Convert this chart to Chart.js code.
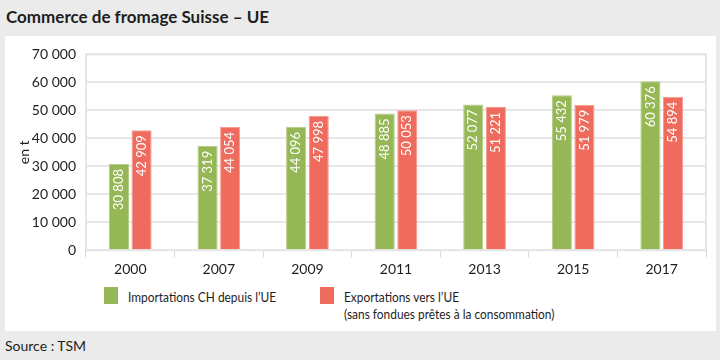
<!DOCTYPE html>
<html>
<head>
<meta charset="utf-8">
<script src="https://cdn.jsdelivr.net/npm/chart.js@4"></script>
<style>
  body { margin: 0; width: 720px; height: 360px; background: #ebebeb; font-family: Lato, sans-serif; color: #1e1e1e; position: relative; overflow: hidden; }
  #title { position: absolute; left: 6px; top: 6px; font-size: 17px; font-weight: bold; }
  #panel { position: absolute; left: 5px; top: 36px; width: 711px; height: 295px; background: #fff; }
  #wrap { position: absolute; left: 0; top: 0; width: 711px; height: 246px; }
  #legend { position: absolute; left: 0; top: 251px; width: 711px; font-size: 14px; line-height: 17px; }
  .item { position: absolute; top: 0; }
  .box { position: absolute; left: 0; top: 0; width: 14px; height: 17px; }
  .txt { position: absolute; left: 24px; top: 1px; white-space: nowrap; transform: scaleX(0.85); transform-origin: 0 0; }
  #source { position: absolute; left: 5px; top: 337px; font-size: 14px; }
</style>
</head>
<body>
<div id="title">Commerce de fromage Suisse – UE</div>
<div id="panel">
  <div id="wrap"><canvas id="chart"></canvas></div>
  <div id="legend"></div>
</div>
<div id="source">Source : TSM</div>
<script>
const years = ['2000', '2007', '2009', '2011', '2013', '2015', '2017'];
const importsEU = [30808, 37319, 44096, 48885, 52077, 55432, 60376];
const exportsEU = [42909, 44054, 47998, 50053, 51221, 51979, 54894];
const seriesNames = [['Importations CH depuis l\u2019UE'], ['Exportations vers l\u2019UE', '(sans fondues prêtes à la consommation)']];
const yMax = 70000;
const yStep = 10000;

const green = '#95b755';
const red = '#ee6b5d';

function fmt(n) {
  return String(n).replace(/\B(?=(\d{3})+(?!\d))/g, ' ');
}

// white rotated value labels at the top of each bar
const barLabels = {
  id: 'barLabels',
  afterDatasetsDraw(chart) {
    const ctx = chart.ctx;
    ctx.save();
    ctx.fillStyle = '#fff';
    ctx.font = '13px Lato, sans-serif';
    ctx.textAlign = 'right';
    ctx.textBaseline = 'middle';
    chart.data.datasets.forEach((ds, i) => {
      chart.getDatasetMeta(i).data.forEach((bar, j) => {
        ctx.save();
        ctx.translate(bar.x, bar.y + 5);
        ctx.rotate(-Math.PI / 2);
        ctx.fillText(fmt(ds.data[j]), 0, 0);
        ctx.restore();
      });
    });
    ctx.restore();
  }
};

// light frame round the plot area
const frame = {
  id: 'frame',
  beforeDatasetsDraw(chart) {
    const a = chart.chartArea;
    const ctx = chart.ctx;
    ctx.save();
    ctx.strokeStyle = '#e6e6e6';
    ctx.lineWidth = 2;
    ctx.strokeRect(a.left, a.top, a.right - a.left, a.bottom - a.top);
    ctx.restore();
  }
};

const chart = new Chart(document.getElementById('chart'), {
  type: 'bar',
  data: {
    labels: years,
    datasets: [
      { label: seriesNames[0].join(' '), data: importsEU, backgroundColor: green, borderColor: '#b3cc85', borderWidth: 1 },
      { label: seriesNames[1].join(' '), data: exportsEU, backgroundColor: red, borderColor: '#f49a8f', borderWidth: 1 }
    ]
  },
  options: {
    responsive: true,
    maintainAspectRatio: false,
    animation: false,
    layout: { padding: { left: 8, right: 10, top: 10, bottom: 0 } },
    categoryPercentage: 0.51,
    barPercentage: 0.89,
    plugins: { legend: { display: false }, tooltip: { enabled: false } },
    scales: {
      x: {
        grid: { offset: true, drawOnChartArea: false, color: '#d9d9d9', lineWidth: 1, tickLength: 7 },
        border: { color: '#e6e6e6', width: 2 },
        ticks: { color: '#1e1e1e', font: { family: 'Lato, sans-serif', size: 14 }, padding: 4 }
      },
      y: {
        min: 0,
        max: yMax,
        afterFit(scale) { scale.width = 73; },
        grid: { color: '#e6e6e6', lineWidth: 2, drawTicks: false },
        border: { display: false },
        title: { display: true, text: 'en t', color: '#1e1e1e', font: { family: 'Lato, sans-serif', size: 14 }, padding: { top: 3, bottom: 0 } },
        ticks: { stepSize: yStep, color: '#1e1e1e', font: { family: 'Lato, sans-serif', size: 14 }, padding: 10, callback: v => fmt(v) }
      }
    }
  },
  plugins: [frame, barLabels]
});

// legend built from the datasets
const legend = document.getElementById('legend');
const legendX = [99, 315];
chart.data.datasets.forEach((ds, i) => {
  const item = document.createElement('div');
  item.className = 'item';
  item.style.left = legendX[i] + 'px';
  const box = document.createElement('div');
  box.className = 'box';
  box.style.background = ds.backgroundColor;
  const txt = document.createElement('div');
  txt.className = 'txt';
  txt.innerHTML = seriesNames[i].join('<br>');
  item.appendChild(box);
  item.appendChild(txt);
  legend.appendChild(item);
});
</script>
</body>
</html>
